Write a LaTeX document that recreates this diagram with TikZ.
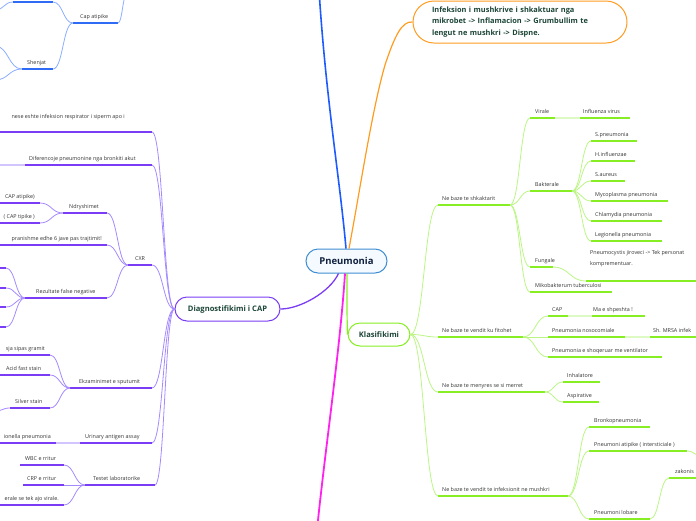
\documentclass[tikz,border=0pt]{standalone}
\usepackage{fontspec}
\setmainfont{Open Sans}
\usetikzlibrary{calc}
\definecolor{pur}{HTML}{7A3DF5}
\definecolor{purl}{HTML}{A58AFF}
\definecolor{purxl}{HTML}{D2C4FF}
\definecolor{grn}{HTML}{86EE22}
\definecolor{grnl}{HTML}{BBF584}
\definecolor{grnxl}{HTML}{DDF9C4}
\definecolor{blu}{HTML}{2F6BF5}
\definecolor{blul}{HTML}{8AAEFF}
\definecolor{mainblue}{HTML}{1E5BFF}
\definecolor{org}{HTML}{FF9C1F}
\definecolor{mag}{HTML}{FF22EE}
\definecolor{nodetxt}{HTML}{1C4536}
\definecolor{roottxt}{HTML}{0F1F3D}
\definecolor{rootdraw}{HTML}{3F8ED3}
\definecolor{rootfill}{HTML}{F4FAFF}
\definecolor{lbltxt}{HTML}{333333}
\tikzset{
 lbl/.style={font=\fontsize{5.4}{6.5}\selectfont, text=lbltxt, inner sep=0pt, anchor=base west},
 lble/.style={lbl, anchor=base east},
 ulp/.style={draw=pur, line width=1.6pt},
 ulg/.style={draw=grn, line width=1.6pt},
 ulb/.style={draw=blu, line width=1.6pt},
 cp/.style={draw=purl, line width=0.8pt},
 cpx/.style={draw=purxl, line width=1.2pt},
 cg/.style={draw=grnl, line width=0.8pt},
 cgx/.style={draw=grnxl, line width=1.2pt},
 cb/.style={draw=blul, line width=0.8pt},
 mainbox/.style={rounded corners=12pt, line width=1pt, fill=white, inner sep=0pt, text=nodetxt, font=\fontsize{7.6}{9}\selectfont\bfseries},
}
\newcommand\mmu[5]{\coordinate (#2-l) at (#3,#5); \coordinate (#2-r) at (#4,#5); \draw[#1] (#2-l) -- (#2-r);}
\newcommand\mmc[3]{\draw[#1] let \p1=(#2), \p2=(#3) in (\p1) .. controls ({0.5*\x1+0.5*\x2},\y1) and ({0.5*\x1+0.5*\x2},\y2) .. (\p2);}
\begin{document}
\begin{tikzpicture}[x=1pt,y=-1pt]
\useasboundingbox (0,0) rectangle (696,520);
\clip (0,0) rectangle (696,520);

% ---------- main nodes ----------
\node[draw=rootdraw, fill=rootfill, rounded corners=12pt, line width=1pt, minimum width=81pt, minimum height=24pt, inner sep=0pt, text=roottxt, font=\fontsize{9.5}{11}\selectfont\bfseries] (root) at (346.5,261) {Pneumonia};
\node[mainbox, draw=pur, minimum width=105pt, minimum height=24pt] (diag) at (227.5,309) {Diagnostifikimi i CAP};
\node[mainbox, draw=grn, minimum width=62pt, minimum height=23pt] (klas) at (379,334.5) {Klasifikimi};
\node[mainbox, draw=org, rounded corners=21pt, minimum width=214pt, minimum height=42pt, inner xsep=19pt, text width=176pt, align=left, font=\fontsize{7.4}{11.2}\selectfont\bfseries] (def) at (520,22) {Infeksion i mushkrive i shkaktuar nga\\ mikrobet -> Inflamacion -> Grumbullim te\\ lengut ne mushkri -> Dispne.};

\coordinate (blueend) at (319,-10);
\coordinate (magend) at (317,530);
\draw[mainblue, line width=1.6pt] ([xshift=-0.5pt]root.north) .. controls (340,180) and (326,100) .. (blueend);
\draw[org, line width=1.2pt] ([xshift=2.5pt]root.north) .. controls (360,190) and (372,110) .. (385,65) .. controls (395,35) and (402,21) .. (def.west);
\draw[mag, line width=1.8pt] ([xshift=-1.5pt]root.south) .. controls (340,350) and (325,450) .. (magend);
\draw[pur, line width=1.3pt] ([xshift=-8pt]root.south) .. controls (330,292) and (300,309) .. (diag.east);
\draw[grn, line width=1.2pt] ([xshift=0.5pt]root.south) .. controls (347,300) and (347,326) .. (klas.west);

% ---------- blue branch (top left) ----------
\mmu{ulb}{ca}{73}{118}{23}
\node[lbl] (ca) at (80,18) {Cap atipike};
\mmu{ulb}{ct}{13}{53}{2}
\mmu{ulb}{sh}{22}{53}{69}
\node[lbl] (sh) at (27,64) {Shenjat};
\coordinate (bup) at (127,-6);
\coordinate (bct) at (-5,10);
\coordinate (bs1) at (-5,46);
\coordinate (bs2) at (-5,80);
\mmc{cb}{ca-r}{bup}
\mmc{cb}{ct-r}{ca-l}
\mmc{cb}{sh-r}{ca-l}
\mmc{cb}{ct-l}{bct}
\mmc{cb}{sh-l}{bs1}
\mmc{cb}{sh-l}{bs2}

% ---------- purple branch (left) ----------
\mmu{ulp}{d1}{-2}{152}{132}
\node[lble] (d1) at (125,118.5) {nese eshte infeksion respirator i siperm apo i};
\mmu{ulp}{d2}{25}{152}{165}
\node[lbl] (d2) at (29,160) {Diferencoje pneumonine nga bronkiti akut};
\coordinate (d2x) at (-2,165);
\draw[cpx] (d2x) -- (d2-l);

\mmu{ulp}{cx}{128}{152}{265}
\node[lbl] (cx) at (135,260.5) {CXR};
\mmu{ulp}{nd}{63}{107}{213}
\node[lbl] (nd) at (69,208.5) {Ndryshimet};
\mmu{ulp}{na}{-2}{40}{203}
\node[lble] (na) at (35,198.5) {CAP atipike)};
\mmu{ulp}{nt}{-2}{40}{223}
\node[lble] (nt) at (35,218.5) {( CAP tipike )};
\mmu{ulp}{px}{-2}{107}{245}
\node[lble] (px) at (102,240.5) {pranishme edhe 6 jave pas trajtimit!};
\mmu{ulp}{rf}{25}{107}{298}
\node[lbl] (rf) at (36,293.5) {Rezultate false negative};
\mmu{ulp}{r1}{-2}{6}{268}
\mmu{ulp}{r2}{-2}{6}{288}
\mmu{ulp}{r3}{-2}{6}{307}
\mmu{ulp}{r4}{-2}{6}{327}

\mmu{ulp}{ek}{70}{152}{388}
\node[lbl] (ek) at (79,383.5) {Ekzaminimet e sputumit};
\mmu{ulp}{e1}{-2}{50}{355}
\node[lble] (e1) at (45,350.5) {sja sipas gramit};
\mmu{ulp}{e2}{-2}{50}{375}
\node[lbl] (e2) at (6,370.5) {Acid fast stain};
\mmu{ulp}{e3}{10}{50}{408}
\node[lbl] (e3) at (15,403.5) {Silver stain};
\coordinate (e3x) at (-5,411);

\mmu{ulp}{ur}{80}{152}{443}
\node[lbl] (ur) at (85,438.5) {Urinary antigen assay};
\mmu{ulp}{u1}{-2}{56}{443}
\node[lble] (u1) at (51,438.5) {ionella pneumonia};
\draw[cpx] (u1-r) -- (ur-l);

\mmu{ulp}{tl}{85}{155}{485}
\node[lbl] (tl) at (93,480.5) {Testet laboratorike};
\mmu{ulp}{t1}{20}{64}{465}
\node[lbl] (t1) at (25,460.5) {WBC e rritur};
\mmu{ulp}{t2}{23}{64}{485}
\node[lbl] (t2) at (27,480.5) {CRP e rritur};
\mmu{ulp}{t3}{-2}{64}{505}
\node[lble] (t3) at (59,500.5) {erale se tek ajo virale.};

\foreach \c in {d1,d2,cx,ek,ur,tl} {\mmc{cp}{diag.west}{\c-r}}
\foreach \c in {nd,px,rf} {\mmc{cp}{\c-r}{cx-l}}
\foreach \c in {na,nt} {\mmc{cp}{\c-r}{nd-l}}
\foreach \c in {r1,r2,r3,r4} {\mmc{cp}{\c-r}{rf-l}}
\foreach \c in {e1,e2,e3} {\mmc{cp}{\c-r}{ek-l}}
\mmc{cp}{e3-l}{e3x}
\foreach \c in {t1,t2,t3} {\mmc{cp}{\c-r}{tl-l}}

% ---------- green branch (right) ----------
\mmu{ulg}{s}{438}{510}{205}
\node[lbl] (s) at (442,200) {Ne baze te shkaktarit};
\mmu{ulg}{vi}{530}{555}{118}
\node[lbl] (vi) at (535,113) {Virale};
\mmu{ulg}{inf}{580}{630}{118}
\node[lbl] (inf) at (583,113) {Influenza virus};
\draw[cgx] (vi-r) -- (inf-l);
\mmu{ulg}{ba}{530}{572}{191}
\node[lbl] (ba) at (535,186) {Bakterale};
\mmu{ulg}{b1}{591}{637}{141}
\node[lbl] (b1) at (595,136) {S.pneumonia};
\mmu{ulg}{b2}{591}{635}{161}
\node[lbl] (b2) at (595,156) {H.influenzae};
\mmu{ulg}{b3}{591}{625}{181}
\node[lbl] (b3) at (595,176) {S.aureus};
\mmu{ulg}{b4}{591}{668}{201}
\node[lbl] (b4) at (595,196) {Mycoplasma pneumonia};
\mmu{ulg}{b5}{591}{662}{221}
\node[lbl] (b5) at (595,216) {Chlamydia pneumonia};
\mmu{ulg}{b6}{591}{662}{241}
\node[lbl] (b6) at (595,236) {Legionella pneumonia};
\mmu{ulg}{fu}{530}{553}{267}
\node[lbl] (fu) at (535,262) {Fungale};
\mmu{ulg}{pj}{586}{700}{281}
\node[lbl, align=left, anchor=north west, font=\fontsize{5.4}{11}\selectfont] (pj) at (590,250.5) {Pneumocystis jiroveci -> Tek personat\\ komprementuar.};
\mmu{ulg}{mi}{530}{612}{292}
\node[lbl] (mi) at (535,287) {Mikobakterum tuberculosi};

\mmu{ulg}{v}{438}{523}{337}
\node[lbl] (v) at (442,332) {Ne baze te vendit ku fitohet};
\mmu{ulg}{cp}{548}{568}{316}
\node[lbl] (cp) at (552,311) {CAP};
\mmu{ulg}{ma}{592}{645}{316}
\node[lbl] (ma) at (593,311) {Ma e shpeshta !};
\draw[cgx] (cp-r) -- (ma-l);
\mmu{ulg}{no}{548}{625}{337}
\node[lbl] (no) at (552,332) {Pneumonia nosocomiale};
\mmu{ulg}{mr}{650}{700}{337}
\node[lbl] (mr) at (653,332) {Sh. MRSA infek};
\draw[cgx] (no-r) -- (mr-l);
\mmu{ulg}{ve}{548}{662}{357}
\node[lbl] (ve) at (552,352) {Pneumonia e shoqeruar me ventilator};

\mmu{ulg}{m}{438}{545}{392}
\node[lbl] (m) at (442,387) {Ne baze te menyres se si merret};
\mmu{ulg}{in}{563}{600}{382}
\node[lbl] (in) at (567,377) {Inhalatore};
\mmu{ulg}{as}{563}{599}{402}
\node[lbl] (as) at (567,397) {Aspirative};

\mmu{ulg}{f}{438}{568}{496}
\node[lbl] (f) at (442,491) {Ne baze te vendit te infeksionit ne mushkri};
\mmu{ulg}{br}{589}{650}{427}
\node[lbl] (br) at (594,422) {Bronkopneumonia};
\mmu{ulg}{pa}{589}{687}{451}
\node[lbl] (pa) at (594,446) {Pneumoni atipike ( intersticiale )};
\coordinate (pax) at (702,456);
\mmu{ulg}{lo}{589}{650}{519}
\node[lbl] (lo) at (594,514.5) {Pneumoni lobare};
\mmu{ulg}{za}{669}{700}{478}
\node[lbl] (za) at (675,473) {zakonis};

\foreach \c in {s,v,m,f} {\mmc{cg}{klas.east}{\c-l}}
\foreach \c in {vi,ba,fu,mi} {\mmc{cg}{s-r}{\c-l}}
\foreach \c in {b1,b2,b3,b4,b5,b6} {\mmc{cg}{ba-r}{\c-l}}
\mmc{cg}{fu-r}{pj-l}
\foreach \c in {cp,no,ve} {\mmc{cg}{v-r}{\c-l}}
\foreach \c in {in,as} {\mmc{cg}{m-r}{\c-l}}
\foreach \c in {br,pa,lo} {\mmc{cg}{f-r}{\c-l}}
\mmc{cg}{pa-r}{pax}
\mmc{cg}{lo-r}{za-l}
\end{tikzpicture}
\end{document}
